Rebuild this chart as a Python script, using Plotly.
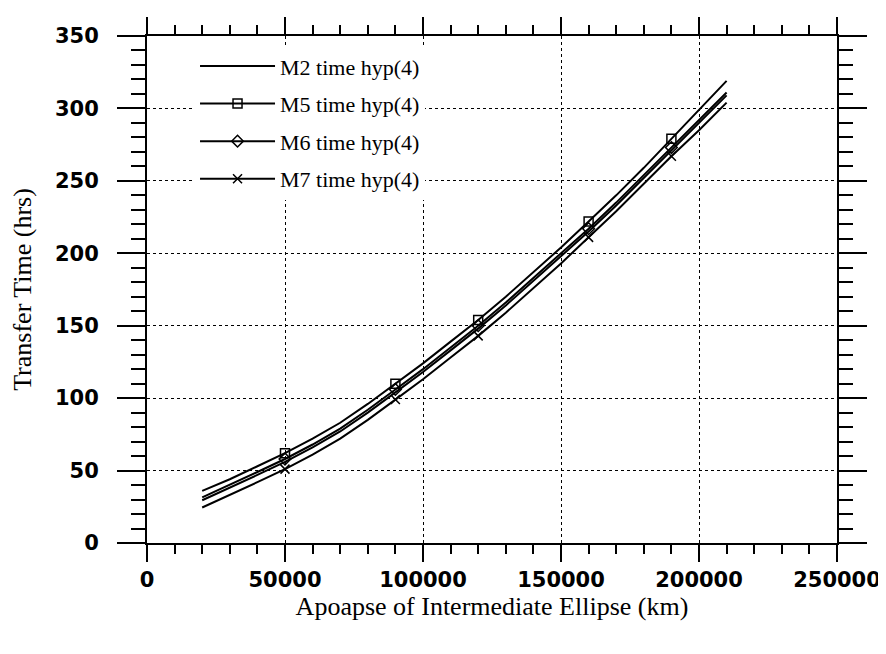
import plotly.graph_objects as go

# Apoapse of intermediate ellipse (km)
apoapse_km = [20000, 30000, 40000, 50000, 60000, 70000, 80000, 90000, 100000, 110000,
              120000, 130000, 140000, 150000, 160000, 170000, 180000, 190000, 200000, 210000]

m2_time = [29.5, 38, 47, 56, 66, 77, 90, 104, 118, 133, 148, 164, 181, 198, 215, 233, 252, 271, 290, 309]
m5_time = [36, 44, 53, 62, 72, 83, 96, 110, 124, 139, 154, 170, 187, 204, 222, 240, 259, 279, 299, 319]
m6_time = [31.5, 40, 49, 58, 68, 79, 92, 106, 120, 135, 150, 166, 183, 200, 217, 235, 254, 273, 292, 311]
m7_time = [24.5, 33, 42, 51, 61, 72, 85, 99, 113, 128, 143, 159, 176, 193, 211, 229, 248, 267, 285, 304]

# positions at which the reference draws markers
marker_apoapse = [50000, 90000, 120000, 160000, 190000]

series_names = ["M2 time hyp(4)", "M5 time hyp(4)", "M6 time hyp(4)", "M7 time hyp(4)"]
series_values = [m2_time, m5_time, m6_time, m7_time]
series_symbols = [None, "square-open", "diamond-open", "x-thin-open"]

x_tick_vals = [0, 50000, 100000, 150000, 200000, 250000]
x_tick_text = ["0", "50000", "100000", "150000", "200000", "250000"]
y_tick_vals = [0, 50, 100, 150, 200, 250, 300, 350]
y_tick_text = ["0", "50", "100", "150", "200", "250", "300", "350"]

fig = go.Figure()
for i, (name, vals, sym) in enumerate(zip(series_names, series_values, series_symbols)):
    grp = f"g{i}"
    fig.add_trace(go.Scatter(x=apoapse_km, y=vals, mode="lines",
                             line=dict(color="black", width=2),
                             showlegend=False, legendgroup=grp, hoverinfo="skip"))
    if sym is not None:
        mx = [x for x in apoapse_km if x in marker_apoapse]
        my = [v for x, v in zip(apoapse_km, vals) if x in marker_apoapse]
        fig.add_trace(go.Scatter(x=mx, y=my, mode="markers",
                                 marker=dict(symbol=sym, size=9, color="black",
                                             line=dict(color="black", width=1.5)),
                                 showlegend=False, legendgroup=grp))
    fig.add_trace(go.Scatter(x=[None], y=[None],
                             mode="lines+markers" if sym else "lines",
                             name=name, legendgroup=grp,
                             line=dict(color="black", width=2),
                             marker=dict(symbol=sym or "circle", size=9, color="black",
                                         line=dict(color="black", width=1.5))))

tick_font = dict(family="DejaVu Sans, Arial, sans-serif", size=21, color="black", weight="bold")
title_font = dict(family="Liberation Serif, Times New Roman, serif", size=26, color="black")

fig.update_layout(
    width=886, height=654,
    margin=dict(l=139, r=57, t=28, b=119),
    paper_bgcolor="white", plot_bgcolor="white",
    showlegend=True,
    legend=dict(x=0.0696, y=0.982, xanchor="left", yanchor="top",
                bgcolor="white", borderwidth=0, itemwidth=75,
                font=dict(family="Liberation Serif, Times New Roman, serif", size=22, color="black"),
                traceorder="grouped", tracegroupgap=6),
    xaxis=dict(range=[0, 250000], tickmode="array", tickvals=x_tick_vals, ticktext=x_tick_text,
               ticks="outside", ticklen=17, tickwidth=1.5, tickcolor="black",
               minor=dict(dtick=10000, ticks="outside", ticklen=9, tickwidth=1.5, tickcolor="black", showgrid=False),
               showline=True, linecolor="black", linewidth=2, mirror="ticks",
               showgrid=True, gridcolor="black", griddash="dot", gridwidth=1,
               zeroline=False, tickfont=tick_font, automargin=False,
               title=dict(text="Apoapse of Intermediate Ellipse (km)", font=title_font, standoff=3)),
    yaxis=dict(range=[0, 350], tickmode="array", tickvals=y_tick_vals, ticktext=y_tick_text,
               ticks="outside", ticklen=28, tickwidth=1.5, tickcolor="black",
               minor=dict(dtick=10, ticks="outside", ticklen=14, tickwidth=1.5, tickcolor="black", showgrid=False),
               showline=True, linecolor="black", linewidth=2, mirror="ticks",
               showgrid=True, gridcolor="black", griddash="dot", gridwidth=1,
               zeroline=False, tickfont=tick_font, ticklabelstandoff=14, automargin=False,
               title=dict(text="Transfer Time (hrs)", font=title_font, standoff=24)),
)

fig.write_html("out.html")
